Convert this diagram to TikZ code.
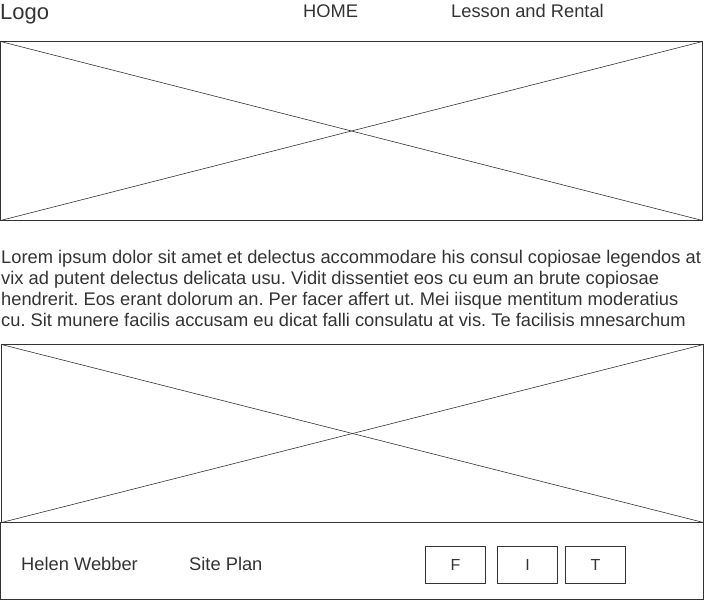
\documentclass[tikz,border=0pt]{standalone}
\usepackage{fontspec}
\setmainfont{Liberation Sans}
\definecolor{ink}{RGB}{51,51,51}
\definecolor{txt}{RGB}{51,51,51}
\frenchspacing
\begin{document}
\begin{tikzpicture}[x=1pt,y=-1pt,
  frame/.style={draw=ink,line width=1pt},
  crossline/.style={draw=ink,line width=0.6pt},
  label/.style={inner sep=0pt,text=txt,font=\fontsize{18.3}{21}\selectfont,anchor=base west},
  btn/.style={draw=ink,line width=1pt,minimum width=60pt,minimum height=37pt,inner sep=0pt,text=txt,font=\fontsize{16}{19}\selectfont}
]
\useasboundingbox (0,0) rectangle (706,600);
% header
\node[label,font=\fontsize{22}{25}\selectfont] (logo) at (0,19.5) {Logo};
\node[label] (home) at (303,17.5) {HOME};
\node[label] (lesson) at (451,17.5) {Lesson and Rental};
% image 1
\coordinate (a1) at (0.5,41.5);
\coordinate (b1) at (702.5,220.5);
\coordinate (c1) at (702.5,41.5);
\coordinate (d1) at (0.5,220.5);
\draw[frame] (a1) rectangle (b1);
\draw[crossline] (a1) -- (b1);
\draw[crossline] (d1) -- (c1);
% paragraph
\node[label] (p1) at (1,263) {Lorem ipsum dolor sit amet et delectus accommodare his consul copiosae legendos at};
\node[label] (p2) at (1,284) {vix ad putent delectus delicata usu. Vidit dissentiet eos cu eum an brute copiosae};
\node[label] (p3) at (1,305) {hendrerit. Eos erant dolorum an. Per facer affert ut. Mei iisque mentitum moderatius};
\node[label] (p4) at (1,326) {cu. Sit munere facilis accusam eu dicat falli consulatu at vis. Te facilisis mnesarchum};
% image 2
\coordinate (a2) at (1.5,344.5);
\coordinate (b2) at (703.5,522.5);
\coordinate (c2) at (703.5,344.5);
\coordinate (d2) at (1.5,522.5);
\draw[frame] (a2) rectangle (b2);
\draw[crossline] (a2) -- (b2);
\draw[crossline] (d2) -- (c2);
% footer
\coordinate (fa) at (0.5,522.5);
\coordinate (fb) at (703.5,599.5);
\draw[frame] (fa) rectangle (fb);
\node[label] (helen) at (21,570.3) {Helen Webber};
\node[label] (site) at (189,570.3) {Site Plan};
\node[btn] (f) at (455.5,565) {F};
\node[btn] (i) at (527.5,565) {I};
\node[btn] (t) at (595.5,565) {T};
\end{tikzpicture}
\end{document}
